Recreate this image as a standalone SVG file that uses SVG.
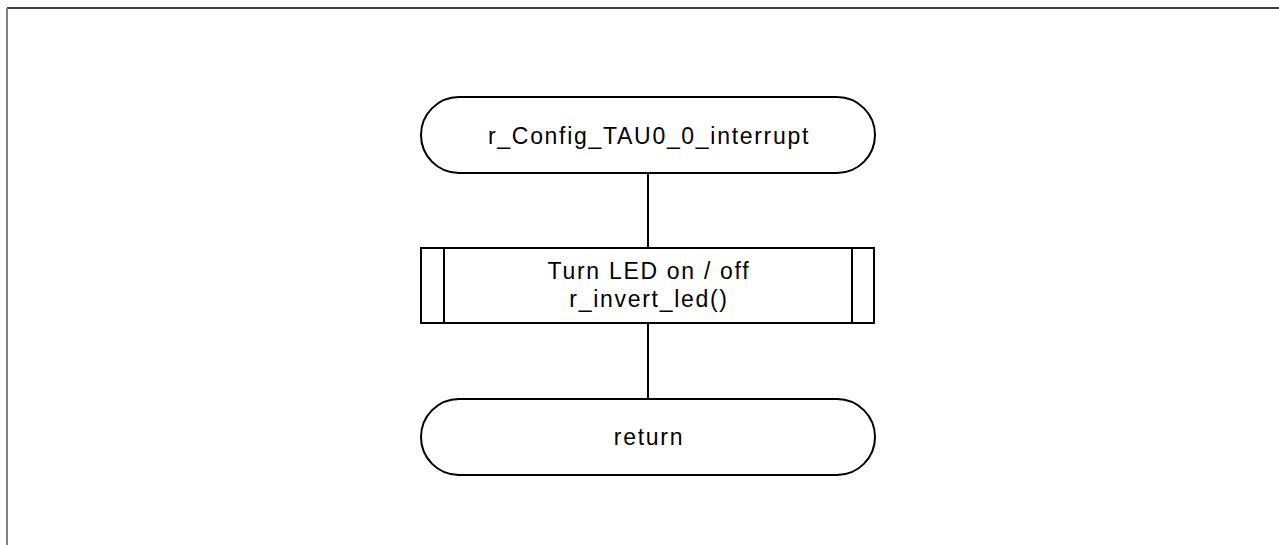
<svg xmlns="http://www.w3.org/2000/svg" width="1279" height="545" viewBox="0 0 1279 545">
<style>
.shape{fill:#fff;stroke:#000;stroke-width:2}
.conn{stroke:#000;stroke-width:2;fill:none}
.lbl{font-family:"Liberation Sans",Arial,sans-serif;font-size:23px;letter-spacing:1.7px;fill:#000;text-anchor:middle}
</style>
<rect width="1279" height="545" fill="#fff"/>
<line x1="7" y1="8" x2="1279" y2="8" stroke="#000" stroke-width="1.5"/>
<line x1="7" y1="8" x2="7" y2="545" stroke="#808080" stroke-width="2"/>
<g id="connectors">
<line class="conn" x1="648" y1="173" x2="648" y2="248"/>
<line class="conn" x1="648" y1="323" x2="648" y2="399"/>
</g>
<g id="start">
<rect class="shape" x="421" y="97" width="454" height="76" rx="38" ry="38"/>
<text class="lbl" x="649" y="144">r_Config_TAU0_0_interrupt</text>
</g>
<g id="process">
<rect class="shape" x="421" y="248" width="453" height="75"/>
<line class="conn" x1="444" y1="248" x2="444" y2="323"/>
<line class="conn" x1="852" y1="248" x2="852" y2="323"/>
<text class="lbl" x="649" y="279">Turn LED on / off</text>
<text class="lbl" x="649" y="307">r_invert_led()</text>
</g>
<g id="end">
<rect class="shape" x="421" y="399" width="454" height="76" rx="38" ry="38"/>
<text class="lbl" x="649" y="445">return</text>
</g>
</svg>
